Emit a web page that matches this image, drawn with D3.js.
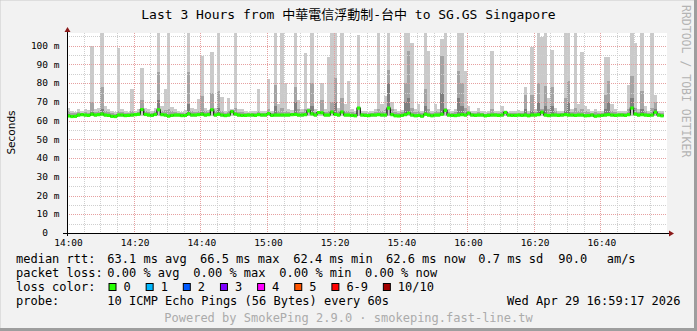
<!DOCTYPE html>
<html>
<head>
<meta charset="utf-8">
<script src="https://cdn.jsdelivr.net/npm/d3@7"></script>
<style>
  body { margin: 0; background: #f2f2f2; }
  svg text { font-family: "DejaVu Sans Mono", "Noto Sans CJK TC", monospace; }
</style>
</head>
<body>
<svg id="chart" width="697" height="331"></svg>
<script>
// one value per 60s step, starting 14:00
var medRtt = [
  62.5, 62.2, 62.3, 63.0, 63.2, 63.0, 62.8, 63.4, 63.0, 63.2,
  63.5, 63.0, 62.8, 62.3, 62.2, 63.0, 63.0, 62.7, 62.8, 63.0,
  63.2, 63.4, 65.9, 63.3, 63.0, 62.8, 63.3, 65.8, 63.2, 63.0,
  62.4, 62.8, 63.0, 63.0, 62.7, 62.8, 63.6, 63.0, 63.0, 63.2,
  63.4, 63.0, 63.2, 65.8, 63.0, 63.4, 63.0, 62.7, 63.0, 64.8,
  63.5, 63.0, 62.8, 62.8, 63.0, 63.0, 62.8, 63.2, 63.0, 63.0,
  63.8, 62.8, 63.0, 63.0, 63.0, 63.0, 63.0, 63.2, 63.3, 63.0,
  63.0, 63.2, 65.2, 63.6, 63.0, 64.3, 64.2, 63.0, 63.0, 64.6,
  63.3, 63.0, 64.6, 63.0, 63.0, 62.8, 62.6, 66.7, 63.0, 62.8,
  62.7, 63.0, 63.0, 63.2, 63.0, 63.0, 66.7, 63.2, 62.6, 62.5,
  62.8, 63.2, 64.0, 63.0, 62.6, 62.8, 62.4, 63.4, 63.0, 62.6,
  63.0, 63.0, 63.4, 65.5, 63.0, 62.8, 62.7, 63.0, 63.2, 63.0,
  64.0, 63.0, 62.8, 63.0, 63.0, 62.6, 62.8, 63.0, 63.0, 62.8,
  63.0, 64.4, 63.0, 62.8, 62.8, 63.0, 62.8, 63.0, 62.6, 63.0,
  63.0, 63.2, 64.5, 63.0, 62.7, 63.0, 63.0, 62.8, 63.0, 63.2,
  63.0, 63.0, 62.8, 63.0, 63.0, 62.6, 62.7, 63.0, 62.4, 62.6,
  62.8, 63.0, 63.2, 63.0, 62.8, 63.0, 63.0, 62.8, 63.2, 66.7,
  63.5, 63.0, 63.2, 63.0, 62.8, 63.0, 64.5, 63.0, 62.6
];
var minRtt = [
  61.8, 61.5, 61.6, 62.2, 62.3, 62.2, 62.0, 62.4, 62.2, 62.3,
  62.5, 62.2, 62.0, 61.6, 61.4, 62.2, 62.2, 61.9, 62.0, 62.2,
  62.4, 62.5, 62.6, 62.4, 62.2, 62.0, 62.4, 62.5, 62.4, 62.2,
  61.7, 62.0, 62.2, 62.2, 61.9, 62.0, 62.6, 62.2, 62.2, 62.4,
  62.5, 62.2, 62.4, 62.6, 62.2, 62.5, 62.2, 61.9, 62.2, 62.6,
  62.5, 62.2, 62.0, 62.0, 62.2, 62.2, 62.0, 62.4, 62.2, 62.2,
  62.6, 62.0, 62.2, 62.2, 62.2, 62.2, 62.2, 62.4, 62.4, 62.2,
  62.2, 62.4, 62.6, 62.6, 62.2, 62.6, 62.6, 62.2, 62.2, 62.6,
  62.4, 62.2, 62.6, 62.2, 62.2, 62.0, 61.8, 62.6, 62.2, 62.0,
  61.9, 62.2, 62.2, 62.4, 62.2, 62.2, 62.6, 62.4, 61.8, 61.7,
  62.0, 62.4, 62.6, 62.2, 61.8, 62.0, 61.6, 62.5, 62.2, 61.8,
  62.2, 62.2, 62.5, 62.6, 62.2, 62.0, 61.9, 62.2, 62.4, 62.2,
  62.6, 62.2, 62.0, 62.2, 62.2, 61.8, 62.0, 62.2, 62.2, 62.0,
  62.2, 62.6, 62.2, 62.0, 62.0, 62.2, 62.0, 62.2, 61.8, 62.2,
  62.2, 62.4, 62.6, 62.2, 61.9, 62.2, 62.2, 62.0, 62.2, 62.4,
  62.2, 62.2, 62.0, 62.2, 62.2, 61.8, 61.9, 62.2, 61.6, 61.8,
  62.0, 62.2, 62.4, 62.2, 62.0, 62.2, 62.2, 62.0, 62.4, 62.6,
  62.5, 62.2, 62.4, 62.2, 62.0, 62.2, 62.6, 62.2, 61.8
];
var maxRtt = [
  67, 65, 64.5, 66, 65, 66, 65.5, 100, 66, 67,
  110, 68, 66, 65, 64.5, 99, 66, 65, 64.5, 77,
  65, 66, 88, 67, 66, 65, 67, 110, 68, 77,
  110, 67.5, 66, 65, 64.5, 65.5, 110, 67, 66, 71.5,
  94.7, 67, 65.5, 96.6, 67, 110, 72.5, 65, 72, 66,
  110, 66, 66, 65, 64.5, 65, 65, 77, 65, 65,
  82, 65, 110, 69, 110, 80, 66, 65.5, 110, 71,
  66, 96, 67, 110, 66, 65, 80, 66, 94, 110,
  110, 67, 110, 69, 81, 66, 65, 105.5, 65, 65,
  64.5, 65, 66, 110, 69, 73, 110, 70, 66, 65,
  65.5, 110, 110, 101.4, 66, 69, 65, 110, 97.3, 65,
  69, 66, 103.7, 110, 66, 65, 66, 110, 110, 86.7,
  68, 65, 65, 67, 65, 64.5, 65, 97.3, 65, 65,
  68, 65, 64.5, 65, 65, 65.5, 65, 78, 65, 99.3,
  66, 110, 104.7, 110, 72, 97.5, 67, 65, 65, 110,
  110, 66, 110, 69, 96.6, 68, 66, 65, 66, 65,
  65, 93.8, 93.8, 69, 66, 65, 65, 65, 79, 110,
  101.4, 66, 110, 68, 65, 110, 73.5, 65, 65
];
var p9Rtt = [
  65, 64, 64, 64.5, 64, 64.5, 64, 70, 64.5, 65,
  78, 65, 64.5, 64, 63.5, 65, 64.5, 64, 64, 65,
  64, 64.5, 71, 65, 64.5, 64, 65, 86, 65, 65.5,
  66, 65, 64.5, 64, 64, 64, 86, 65, 64.5, 65,
  73, 65, 64.5, 74.5, 65, 75.6, 65, 64, 65, 65.5,
  67, 64.5, 64.5, 64, 64, 64, 64, 65, 64, 64,
  66, 64, 79, 65, 67, 65, 64.5, 64, 78, 66,
  64.5, 66, 66, 80, 64.5, 65, 71, 64.5, 65, 70,
  83, 65, 72, 65, 65, 64.5, 64, 66, 64, 64,
  64, 64, 64.5, 66, 65, 66, 87, 66, 64.5, 64,
  64.5, 80, 97.3, 67, 64.5, 65, 64, 77, 66, 64,
  65, 64.5, 94.3, 67, 64.5, 64, 64.5, 86.3, 80, 67,
  65, 64, 64, 64.5, 64, 63.5, 64, 66, 64, 64,
  65, 64, 63.5, 64, 64, 64, 64, 73.5, 64, 73.5,
  64.5, 80, 66, 78.4, 66, 78, 65, 64, 64, 72,
  81, 64.5, 67, 65, 66, 65, 64.5, 64, 64.5, 64,
  64, 73.5, 81, 65, 64.5, 64, 64, 64, 66, 84,
  67, 64.5, 76, 65, 64, 67, 70, 64, 64
];
var p8Rtt = [
  63.5, 63, 63, 63.5, 63.6, 63.5, 63.3, 64.5, 63.5, 63.8,
  66, 63.6, 63.3, 63, 62.8, 63.6, 63.5, 63.2, 63.3, 63.6,
  63.6, 63.8, 67, 63.8, 63.5, 63.3, 63.8, 71, 63.7, 63.6,
  63.2, 63.3, 63.5, 63.5, 63.2, 63.3, 69, 63.5, 63.5, 63.7,
  64.5, 63.5, 63.7, 66, 63.5, 67, 63.5, 63.2, 63.5, 65.3,
  64, 63.5, 63.3, 63.3, 63.5, 63.5, 63.3, 63.7, 63.5, 63.5,
  64.3, 63.3, 68, 63.5, 63.6, 63.5, 63.5, 63.7, 70, 63.5,
  63.5, 63.7, 65.6, 68, 63.5, 64.8, 64.7, 63.5, 63.5, 65.1,
  70, 63.5, 65.1, 63.5, 63.5, 63.3, 63.1, 67.2, 63.5, 63.3,
  63.2, 63.5, 63.5, 63.7, 63.5, 63.5, 80, 63.7, 63.1, 63,
  63.3, 70, 72, 63.5, 63.1, 63.3, 62.9, 68, 63.5, 63.1,
  63.5, 63.5, 75, 66, 63.5, 63.3, 63.2, 72, 68, 63.5,
  64.5, 63.5, 63.3, 63.5, 63.5, 63.1, 63.3, 63.5, 63.5, 63.3,
  63.5, 64.9, 63.5, 63.3, 63.3, 63.5, 63.3, 66, 63.1, 65,
  63.5, 70, 65, 68, 63.2, 68, 63.5, 63.3, 63.5, 65,
  70, 63.5, 63.3, 63.5, 63.5, 63.1, 63.2, 63.5, 62.9, 63.1,
  63.3, 66, 70, 63.5, 63.3, 63.5, 63.5, 63.3, 63.7, 72,
  64, 63.5, 66, 63.5, 63.3, 63.5, 66, 63.5, 63.1
];

var yTicks = [0, 10, 20, 30, 40, 50, 60, 70, 80, 90, 100];
var lossLabels = ["0", "1", "2", "3", "4", "5", "6-9", "10/10"];
var lossColors = ["#26ff00", "#00b8ff", "#0059ff", "#7e00ff", "#ff00ff", "#ff5500", "#ff0000", "#a10000"];
var smokeColors = ["#cacaca", "#a4a4a4", "#7e7e7e"];

var svg = d3.select("#chart");
var plot = { left: 67, right: 667, top: 33, bottom: 233 };

var t0 = new Date(2026, 3, 29, 14, 0, 0);
var t1 = new Date(2026, 3, 29, 17, 0, 0);
var x = d3.scaleTime().domain([t0, t1]).range([plot.left, plot.right]);
var y = d3.scaleLinear().domain([0, 106.8]).range([plot.bottom, plot.top]);

var data = medRtt.map(function(m, i) {
    var t = d3.timeMinute.offset(t0, i);
    return { t: t, t2: d3.timeMinute.offset(t, 1), med: m, min: minRtt[i],
             max: maxRtt[i], p9: p9Rtt[i], p8: p8Rtt[i] };
});

// background + frame
svg.append("rect").attr("width", 697).attr("height", 331).attr("fill", "#f2f2f2");
svg.append("rect").attr("x", 0).attr("y", 0).attr("width", 697).attr("height", 331)
    .attr("fill", "none").attr("stroke", "#c9c9c9").attr("stroke-width", 1);
svg.append("line").attr("x1", 0).attr("x2", 697).attr("y1", 329.5).attr("y2", 329.5)
    .attr("stroke", "#9e9e9e").attr("stroke-width", 3);
svg.append("line").attr("x1", 695.5).attr("x2", 695.5).attr("y1", 0).attr("y2", 331)
    .attr("stroke", "#9e9e9e").attr("stroke-width", 3);

svg.append("rect")
    .attr("x", plot.left).attr("y", plot.top)
    .attr("width", plot.right - plot.left).attr("height", plot.bottom - plot.top)
    .attr("fill", "#ffffff");

svg.append("clipPath").attr("id", "clip").append("rect")
    .attr("x", plot.left).attr("y", plot.top)
    .attr("width", plot.right - plot.left).attr("height", plot.bottom - plot.top);

var g = svg.append("g").attr("clip-path", "url(#clip)");

// smoke: light (min..max), mid (med..p9), dark (med..p8)
var bands = [
    { lo: "min", hi: "max", color: smokeColors[0] },
    { lo: "med", hi: "p9", color: smokeColors[1] },
    { lo: "med", hi: "p8", color: smokeColors[2] }
];
bands.forEach(function(b) {
    g.append("g").selectAll("rect")
        .data(data)
        .enter().append("rect")
        .attr("x", function(d) { return x(d.t); })
        .attr("width", function(d) { return x(d.t2) - x(d.t); })
        .attr("y", function(d) { return y(d[b.hi]); })
        .attr("height", function(d) { return Math.max(0, y(d[b.lo]) - y(d[b.hi])); })
        .attr("fill", b.color)
        .attr("shape-rendering", "crispEdges");
});

// grid
var minorX = d3.timeMinute.every(5).range(t0, t1);
var majorX = d3.timeMinute.every(20).range(t0, t1);
var minorY = d3.range(5, 106, 5);
var grid = svg.append("g");
grid.selectAll("line.vmin").data(minorX).enter().append("line")
    .attr("x1", function(d) { return Math.round(x(d)) + 0.5; })
    .attr("x2", function(d) { return Math.round(x(d)) + 0.5; })
    .attr("y1", plot.top).attr("y2", plot.bottom)
    .attr("stroke", "#cfcfcf").attr("stroke-dasharray", "1,1");
grid.selectAll("line.hmin").data(minorY).enter().append("line")
    .attr("y1", function(d) { return Math.round(y(d)) + 0.5; })
    .attr("y2", function(d) { return Math.round(y(d)) + 0.5; })
    .attr("x1", plot.left).attr("x2", plot.right)
    .attr("stroke", "#cfcfcf").attr("stroke-dasharray", "1,1");
grid.selectAll("line.vmaj").data(majorX).enter().append("line")
    .attr("x1", function(d) { return Math.round(x(d)) + 0.5; })
    .attr("x2", function(d) { return Math.round(x(d)) + 0.5; })
    .attr("y1", plot.top).attr("y2", plot.bottom)
    .attr("stroke", "#e6a0a0").attr("stroke-dasharray", "1,1");
grid.selectAll("line.hmaj").data(yTicks.slice(1)).enter().append("line")
    .attr("y1", function(d) { return Math.round(y(d)) + 0.5; })
    .attr("y2", function(d) { return Math.round(y(d)) + 0.5; })
    .attr("x1", plot.left).attr("x2", plot.right)
    .attr("stroke", "#e6a0a0").attr("stroke-dasharray", "1,1");

// median: thin dark step line, then green loss-colour band
var g2 = svg.append("g").attr("clip-path", "url(#clip)");
var stepPts = data.map(function(d) { return [d.t, d.med]; });
stepPts.push([data[data.length - 1].t2, data[data.length - 1].med]);
g2.append("path")
    .datum(stepPts)
    .attr("fill", "none").attr("stroke", "#111").attr("stroke-width", 1.2)
    .attr("d", d3.line().curve(d3.curveStepAfter)
        .x(function(d) { return x(d[0]); })
        .y(function(d) { return y(d[1]); }));
g2.selectAll("rect.med").data(data).enter().append("rect")
    .attr("x", function(d) { return x(d.t); })
    .attr("width", function(d) { return x(d.t2) - x(d.t); })
    .attr("y", function(d) { return y(d.med) - 1.6; })
    .attr("height", 3.2)
    .attr("fill", lossColors[0]);

// axes
svg.append("line").attr("x1", 63).attr("x2", 670).attr("y1", 233.5).attr("y2", 233.5)
    .attr("stroke", "#000").attr("stroke-width", 1);
svg.append("line").attr("x1", 67.5).attr("x2", 67.5).attr("y1", 236).attr("y2", 30)
    .attr("stroke", "#000").attr("stroke-width", 1);
svg.append("path").attr("d", "M669,230.5 L674,233.5 L669,236.5 Z").attr("fill", "#8b1a1a");
svg.append("path").attr("d", "M64.5,32 L67.5,27 L70.5,32 Z").attr("fill", "#8b1a1a");

var fmt = d3.timeFormat("%H:%M");
svg.append("g").selectAll("text").data(majorX).enter().append("text")
    .attr("x", function(d) { return x(d) + 1.5; })
    .attr("y", 245.5)
    .attr("text-anchor", "middle")
    .attr("font-size", "9.5px")
    .attr("fill", "#000")
    .text(function(d) { return fmt(d); });

// "0" has a blank unit, so it sits two characters further left
svg.append("g").selectAll("text").data(yTicks).enter().append("text")
    .attr("x", function(d) { return d === 0 ? 47.9 : 59.5; })
    .attr("y", function(d) { return y(d) + 3.2; })
    .attr("text-anchor", "end")
    .attr("font-size", "9.5px")
    .attr("fill", "#000")
    .text(function(d) { return d === 0 ? "0" : d + " m"; });

svg.append("text")
    .attr("transform", "translate(15,132.5) rotate(-90)")
    .attr("text-anchor", "middle")
    .style("font-family", "'DejaVu Sans', sans-serif")
    .attr("font-size", "10.5px")
    .attr("fill", "#000")
    .text("Seconds");

// title and watermark
svg.append("text")
    .attr("x", 348.5).attr("y", 19)
    .attr("text-anchor", "middle")
    .attr("font-size", "13px")
    .attr("fill", "#000")
    .text("Last 3 Hours from 中華電信浮動制-台中 to SG.GS Singapore");

svg.append("text")
    .attr("transform", "translate(681.5,5) rotate(90)")
    .attr("font-size", "11.5px")
    .attr("fill", "#b4b4b4")
    .text("RRDTOOL / TOBI OETIKER");

// legend
var legend = svg.append("g").attr("font-size", "12px").attr("fill", "#000");
function put(xp, yp, s, color) {
    legend.append("text").attr("x", xp).attr("y", yp)
        .attr("fill", color || "#000")
        .style("white-space", "pre")
        .text(s);
}
put(16, 262.5, "median rtt:");
put(107.3, 262.5, "63.1 ms avg");
put(200, 262.5, "66.5 ms max");
put(293.3, 262.5, "62.4 ms min");
put(386, 262.5, "62.6 ms now");
put(478.3, 262.5, "0.7 ms sd");
put(558.3, 262.5, "90.0");
put(606.7, 262.5, "am/s");

put(16, 276.7, "packet loss:");
put(107.3, 276.7, "0.00 % avg");
put(193.3, 276.7, "0.00 % max");
put(279.3, 276.7, "0.00 % min");
put(365, 276.7, "0.00 % now");

put(16, 290.7, "loss color:");
var bx = 108.5;
lossLabels.forEach(function(lbl, i) {
    legend.append("rect")
        .attr("x", bx + 0.5).attr("y", 283.5)
        .attr("width", 7).attr("height", 7)
        .attr("fill", lossColors[i]).attr("stroke", "#000").attr("stroke-width", 1);
    put(bx + 15, 290.7, lbl);
    bx += 30 + 7.15 * lbl.length;
});

put(16, 304.9, "probe:");
put(107.3, 304.9, "10 ICMP Echo Pings (56 Bytes) every 60s");
legend.append("text").attr("x", 680.5).attr("y", 304.9).attr("text-anchor", "end")
    .text("Wed Apr 29 16:59:17 2026");

legend.append("text").attr("x", 348.5).attr("y", 321.5).attr("text-anchor", "middle")
    .attr("fill", "#ababab")
    .text("Powered by SmokePing 2.9.0 · smokeping.fast-line.tw");
</script>
</body>
</html>
